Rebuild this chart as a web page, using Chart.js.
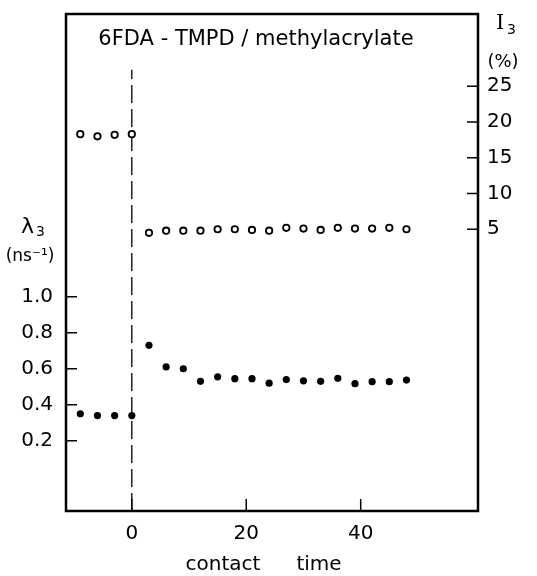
<!DOCTYPE html>
<html lang="en">
<head>
<meta charset="UTF-8">
<title>6FDA-TMPD / methylacrylate</title>
<script src="https://cdn.jsdelivr.net/npm/chart.js@4.4.1/dist/chart.umd.min.js"></script>
<style>
    html, body { margin: 0; padding: 0; background: #fff; }
    .wrap { position: relative; width: 537px; height: 576px; }
</style>
</head>
<body>
<div class="wrap"><canvas id="chart"></canvas></div>
<script>
    // contact time (x), lambda3 in ns^-1 (left axis), I3 in % (right axis)
    const contactTime = [-9, -6, -3, 0, 3, 6, 9, 12, 15, 18, 21, 24, 27, 30, 33, 36, 39, 42, 45, 48];
    const lambda3 = [0.35, 0.34, 0.34, 0.34, 0.73, 0.61, 0.60, 0.53, 0.555, 0.545, 0.545, 0.52, 0.54, 0.533, 0.53, 0.547, 0.517, 0.528, 0.528, 0.537];
    const intensity3 = [18.3, 18.0, 18.2, 18.3, 4.5, 4.8, 4.8, 4.8, 5.0, 5.0, 4.9, 4.8, 5.2, 5.1, 4.9, 5.2, 5.1, 5.1, 5.2, 5.0];

    const xTicks = [0, 20, 40];
    const lambdaTicks = [0.2, 0.4, 0.6, 0.8, 1.0];
    const intensityTicks = [5, 10, 15, 20, 25];

    // vertical dashed marker at t = 0 (in lambda axis units)
    const markerX = [0, 0];
    const markerY = [-0.19, 2.26];

    const FONT = '"DejaVu Sans", sans-serif';

    const framePlugin = {
        id: 'frame',
        afterDatasetsDraw(chart) {
            const { ctx, chartArea: a, scales } = chart;
            ctx.save();
            ctx.strokeStyle = '#000';
            ctx.lineWidth = 2.5;
            ctx.strokeRect(a.left, a.top, a.right - a.left, a.bottom - a.top);

            // inward tick marks
            ctx.lineWidth = 1.5;
            ctx.beginPath();
            lambdaTicks.forEach(v => {
                const y = scales.y.getPixelForValue(v);
                ctx.moveTo(a.left, y); ctx.lineTo(a.left + 11, y);
            });
            intensityTicks.forEach(v => {
                const y = scales.y2.getPixelForValue(v);
                ctx.moveTo(a.right, y); ctx.lineTo(a.right - 11, y);
            });
            xTicks.forEach(v => {
                const x = scales.x.getPixelForValue(v);
                ctx.moveTo(x, a.bottom); ctx.lineTo(x, a.bottom - 12);
            });
            ctx.stroke();

            // labels
            ctx.fillStyle = '#000';
            ctx.textBaseline = 'middle';
            ctx.textAlign = 'center';
            ctx.font = '21px ' + FONT;
            ctx.fillText('6FDA - TMPD / methylacrylate', 256, 40);

            ctx.font = '20px ' + FONT;
            ctx.fillText('contact', 223, 565);
            ctx.fillText('time', 319, 565);

            ctx.textAlign = 'left';
            ctx.font = '22px ' + FONT;
            ctx.fillText('λ', 21, 227);
            ctx.font = '14px ' + FONT;
            ctx.fillText('3', 36, 232);
            ctx.textAlign = 'center';
            ctx.font = '17px ' + FONT;
            ctx.fillText('(ns⁻¹)', 30, 257);

            ctx.textAlign = 'left';
            ctx.font = '21px "DejaVu Serif", serif';
            ctx.fillText('I', 496, 24);
            ctx.font = '14px ' + FONT;
            ctx.fillText('3', 507, 30);
            ctx.textAlign = 'center';
            ctx.font = '18px ' + FONT;
            ctx.fillText('(%)', 503, 62);
            ctx.restore();
        }
    };

    const tickFont = { family: FONT, size: 20 };

    // drop the label-based padding so the frame sits where we want it
    function noPad(s) {
        s.paddingTop = 0; s.paddingBottom = 0;
        s.paddingLeft = 0; s.paddingRight = 0;
    }

    new Chart(document.getElementById('chart'), {
        type: 'scatter',
        data: {
            datasets: [
                {
                    label: 'I3',
                    yAxisID: 'y2',
                    data: contactTime.map((t, i) => ({ x: t, y: intensity3[i] })),
                    pointStyle: 'circle',
                    pointRadius: 3.2,
                    pointBorderWidth: 1.8,
                    pointBackgroundColor: '#fff',
                    pointBorderColor: '#000'
                },
                {
                    label: 'lambda3',
                    yAxisID: 'y',
                    data: contactTime.map((t, i) => ({ x: t, y: lambda3[i] })),
                    pointStyle: 'circle',
                    pointRadius: 3.6,
                    pointBorderWidth: 0,
                    pointBackgroundColor: '#000',
                    pointBorderColor: '#000'
                },
                {
                    label: 'marker',
                    yAxisID: 'y',
                    data: markerX.map((t, i) => ({ x: t, y: markerY[i] })),
                    showLine: true,
                    pointRadius: 0,
                    borderColor: '#000',
                    borderWidth: 1.3,
                    borderDash: [18, 6]
                }
            ]
        },
        options: {
            responsive: true,
            maintainAspectRatio: false,
            animation: false,
            layout: { padding: { top: 14, left: 0, right: 0, bottom: 0 } },
            plugins: {
                legend: { display: false },
                tooltip: { enabled: false }
            },
            scales: {
                x: {
                    type: 'linear',
                    position: 'bottom',
                    min: -11.5,
                    max: 60.5,
                    grid: { display: false, drawTicks: false },
                    border: { display: false },
                    ticks: { font: tickFont, color: '#000', padding: 11 },
                    afterBuildTicks: s => { s.ticks = xTicks.map(v => ({ value: v })); },
                    afterFit: s => { s.height = 65; noPad(s); }
                },
                y: {
                    position: 'left',
                    min: -0.19,
                    max: 2.57,
                    grid: { display: false, drawTicks: false },
                    border: { display: false },
                    ticks: { font: tickFont, color: '#000', padding: 13, callback: v => v.toFixed(1) },
                    afterBuildTicks: s => { s.ticks = lambdaTicks.map(v => ({ value: v })); },
                    afterFit: s => { s.width = 66; noPad(s); }
                },
                y2: {
                    position: 'right',
                    min: -34.4,
                    max: 35.1,
                    grid: { display: false, drawTicks: false },
                    border: { display: false },
                    ticks: { font: tickFont, color: '#000', padding: 9 },
                    afterBuildTicks: s => { s.ticks = intensityTicks.map(v => ({ value: v })); },
                    afterFit: s => { s.width = 59; noPad(s); }
                }
            }
        },
        plugins: [framePlugin]
    });
</script>
</body>
</html>
